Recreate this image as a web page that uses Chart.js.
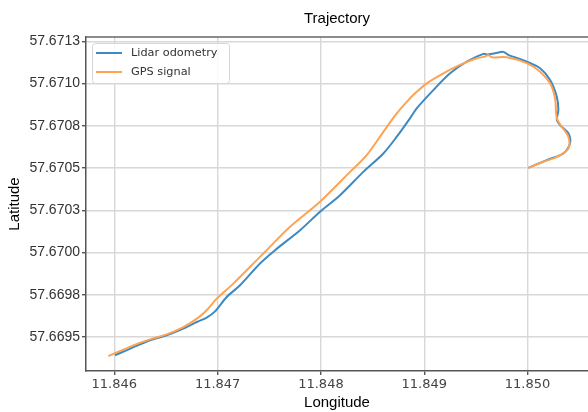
<!DOCTYPE html>
<html>
<head>
<meta charset="utf-8">
<script src="https://cdn.jsdelivr.net/npm/chart.js@4.4.1/dist/chart.umd.min.js"></script>
<style>
    html, body { margin: 0; padding: 0; background: #fff; overflow: hidden; }
</style>
</head>
<body>
<canvas id="trajectoryChart" width="588" height="412"></canvas>
<script>
// Трек лидарной одометрии
const lidarLon = [
    11.846007, 11.846181, 11.846346, 11.846507, 11.846668, 11.846798, 11.846894, 11.846975,
    11.847088, 11.847217, 11.847410, 11.847556, 11.847798, 11.847991, 11.848185, 11.848410,
    11.848604, 11.848734, 11.848862, 11.848927, 11.849088, 11.849250, 11.849411, 11.849572,
    11.849611, 11.849685, 11.849766, 11.849814, 11.849992, 11.850121, 11.850218, 11.850283,
    11.850298, 11.850283, 11.850314, 11.850395, 11.850411, 11.850346, 11.850186, 11.850008
];
const lidarLat = [
    57.669392, 57.669439, 57.669480, 57.669510, 57.669550, 57.669589, 57.669615, 57.669652,
    57.669737, 57.669806, 57.669935, 57.670014, 57.670132, 57.670241, 57.670339, 57.670477,
    57.670586, 57.670685, 57.670794, 57.670853, 57.670961, 57.671060, 57.671129, 57.671175,
    57.671171, 57.671179, 57.671187, 57.671169, 57.671129, 57.671090, 57.671021, 57.670922,
    57.670843, 57.670784, 57.670754, 57.670705, 57.670646, 57.670586, 57.670547, 57.670501
];

// Трек GPS
const gpsLon = [
    11.845942, 11.846184, 11.846346, 11.846507, 11.846668, 11.846813, 11.846894, 11.846991,
    11.847152, 11.847410, 11.847475, 11.847701, 11.847991, 11.848282, 11.848443, 11.848604,
    11.848734, 11.848846, 11.848894, 11.849024, 11.849185, 11.849346, 11.849508, 11.849588,
    11.849620, 11.849653, 11.849798, 11.849992, 11.850121, 11.850218, 11.850266, 11.850283,
    11.850331, 11.850395, 11.850395, 11.850283, 11.850153, 11.850008
];
const gpsLat = [
    57.669387, 57.669451, 57.669486, 57.669516, 57.669559, 57.669615, 57.669658, 57.669727,
    57.669816, 57.669974, 57.670014, 57.670152, 57.670300, 57.670477, 57.670576, 57.670714,
    57.670823, 57.670902, 57.670932, 57.671001, 57.671060, 57.671110, 57.671149, 57.671159,
    57.671169, 57.671155, 57.671155, 57.671120, 57.671070, 57.671001, 57.670912, 57.670794,
    57.670744, 57.670685, 57.670616, 57.670566, 57.670537, 57.670501
];

// Деления осей
const xTicks = [11.846, 11.847, 11.848, 11.849, 11.850];
const yTicks = [57.66950, 57.66975, 57.67000, 57.67025, 57.67050, 57.67075, 57.67100, 57.67125];
const yTickLabels = ['57.6695', '57.6698', '57.6700', '57.6703', '57.6705', '57.6708', '57.6710', '57.6713'];

const seriesNames = ['Lidar odometry', 'GPS signal'];
const seriesColors = ['#3d89c2', '#ffa252'];

function toPoints(lon, lat) {
    return lon.map((x, i) => ({ x: x, y: lat[i] }));
}

// Верхняя рамка и легенда внутри области графика
const frameAndLegend = {
    id: 'frameAndLegend',
    afterDraw(chart) {
        const { ctx, chartArea } = chart;
        ctx.save();
        ctx.strokeStyle = '#666';
        ctx.lineWidth = 1.5;
        ctx.beginPath();
        ctx.moveTo(chartArea.left, chartArea.top);
        ctx.lineTo(chartArea.right, chartArea.top);
        ctx.stroke();

        const bx = chartArea.left + 6, by = chartArea.top + 6;
        const bw = 137, bh = 40;
        ctx.fillStyle = 'rgba(255,255,255,0.85)';
        ctx.strokeStyle = '#d6d6d6';
        ctx.lineWidth = 1;
        ctx.beginPath();
        ctx.roundRect(bx + 0.5, by + 0.5, bw, bh, 3);
        ctx.fill();
        ctx.stroke();

        ctx.font = '11.3px "DejaVu Sans"';
        ctx.textBaseline = 'middle';
        seriesNames.forEach((name, i) => {
            const ly = by + 10 + i * 19;
            ctx.strokeStyle = seriesColors[i];
            ctx.lineWidth = 2;
            ctx.beginPath();
            ctx.moveTo(bx + 4, ly);
            ctx.lineTo(bx + 30, ly);
            ctx.stroke();
            ctx.fillStyle = '#333';
            ctx.fillText(name, bx + 39, ly);
        });
        ctx.restore();
    }
};

new Chart(document.getElementById('trajectoryChart'), {
    type: 'scatter',
    data: {
        datasets: [
            {
                label: seriesNames[0],
                data: toPoints(lidarLon, lidarLat),
                showLine: true,
                borderColor: seriesColors[0],
                borderWidth: 2,
                pointRadius: 0,
                tension: 0.3,
                order: 1
            },
            {
                label: seriesNames[1],
                data: toPoints(gpsLon, gpsLat),
                showLine: true,
                borderColor: seriesColors[1],
                borderWidth: 2,
                pointRadius: 0,
                tension: 0.3,
                order: 0
            }
        ]
    },
    options: {
        responsive: false,
        animation: false,
        devicePixelRatio: 1,
        layout: { padding: 0 },
        plugins: {
            legend: { display: false },
            tooltip: { enabled: false },
            title: {
                display: true,
                text: 'Trajectory',
                fullSize: false,
                color: '#000',
                font: { family: '"Liberation Sans", Arial, sans-serif', size: 15, weight: 'normal' },
                padding: { top: 10, bottom: 9 }
            }
        },
        scales: {
            x: {
                type: 'linear',
                min: 11.845726,
                max: 11.850585,
                afterBuildTicks: scale => { scale.ticks = xTicks.map(v => ({ value: v })); },
                afterFit: scale => { scale.height = 41; },
                ticks: {
                    callback: v => v.toFixed(3),
                    color: '#444',
                    font: { family: '"DejaVu Sans", sans-serif', size: 13 },
                    padding: 2,
                    maxRotation: 0
                },
                grid: { color: '#d8d8d8', lineWidth: 1.4, tickLength: 4, tickColor: '#555' },
                border: { color: '#555', width: 1.5 },
                title: {
                    display: true,
                    text: 'Longitude',
                    color: '#000',
                    font: { family: '"Liberation Sans", Arial, sans-serif', size: 15 },
                    padding: { top: 0, bottom: 0 }
                }
            },
            y: {
                type: 'linear',
                min: 57.669299,
                max: 57.671275,
                afterBuildTicks: scale => { scale.ticks = yTicks.map(v => ({ value: v })); },
                afterFit: scale => { scale.width = 86; },
                ticks: {
                    callback: (v, i) => yTickLabels[i],
                    color: '#333',
                    font: { family: '"Liberation Sans", Arial, sans-serif', size: 14 },
                    padding: 2
                },
                grid: { color: '#d8d8d8', lineWidth: 1.4, tickLength: 4, tickColor: '#555' },
                border: { color: '#555', width: 1.5 },
                title: {
                    display: true,
                    text: 'Latitude',
                    color: '#000',
                    font: { family: '"Liberation Sans", Arial, sans-serif', size: 15 },
                    padding: { top: 6, bottom: 0 }
                }
            }
        }
    },
    plugins: [frameAndLegend]
});
</script>
</body>
</html>
